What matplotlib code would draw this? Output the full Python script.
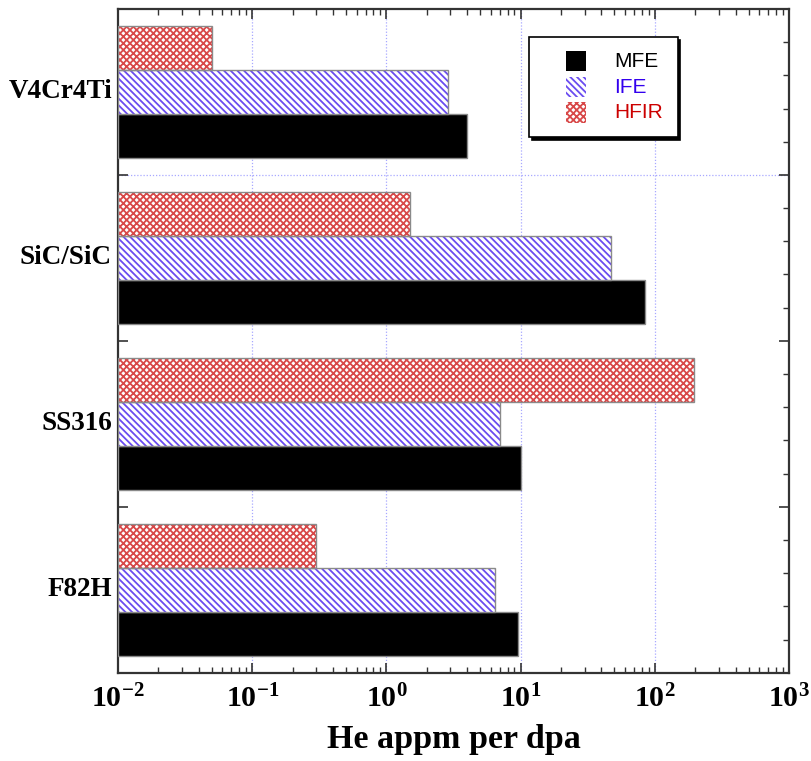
import matplotlib
matplotlib.use("Agg")
import matplotlib.pyplot as plt
import numpy as np
from matplotlib.patches import Rectangle, Patch
from matplotlib.legend_handler import HandlerPatch
from matplotlib.ticker import LogLocator, NullFormatter, MultipleLocator
from matplotlib import transforms

# ---- data ----
materials = ["F82H", "SS316", "SiC/SiC", "V4Cr4Ti"]  # bottom to top
mfe = [9.5, 10.0, 85.0, 4.0]
ife = [6.4, 7.0, 47.0, 2.9]
hfir = [0.3, 195.0, 1.5, 0.05]
series_names = ["MFE", "IFE", "HFIR"]
xtick_values = [1e-2, 1e-1, 1e0, 1e1, 1e2, 1e3]
xtick_labels = [r"$\mathbf{10^{-2}}$", r"$\mathbf{10^{-1}}$", r"$\mathbf{10^{0}}$",
                r"$\mathbf{10^{1}}$", r"$\mathbf{10^{2}}$", r"$\mathbf{10^{3}}$"]
xlabel = "He appm per dpa"

plt.rcParams["mathtext.fontset"] = "custom"
plt.rcParams["mathtext.bf"] = "Liberation Serif:bold"
plt.rcParams["mathtext.rm"] = "Liberation Serif:bold"
plt.rcParams["mathtext.it"] = "Liberation Serif:bold"
plt.rcParams["hatch.linewidth"] = 1.3

ife_col = "#6a4cf0"
hfir_col = "#d84848"
edge_col = "#8a8a8a"
ife_hatch = "\\" * 5
hfir_hatch = "x" * 5

fig = plt.figure(figsize=(8.12, 7.61), dpi=100)
ax = fig.add_axes([118 / 812, 1 - 672.7 / 761, (789 - 118) / 812, (672.7 - 9) / 761])

h = 0.265
centers = np.arange(len(materials)) + 0.5
left = 1e-2

# MFE (bottom of group)
ax.barh(centers - h, np.array(mfe) - left, left=left, height=h, color="black",
        edgecolor=edge_col, linewidth=1.0, zorder=3)
# IFE (middle) hatched
ax.barh(centers, np.array(ife) - left, left=left, height=h, facecolor="white",
        edgecolor=ife_col, hatch=ife_hatch, linewidth=0, zorder=3)
ax.barh(centers, np.array(ife) - left, left=left, height=h, fill=False,
        edgecolor=edge_col, linewidth=1.0, zorder=4)
# HFIR (top) crosshatched
ax.barh(centers + h, np.array(hfir) - left, left=left, height=h, facecolor="white",
        edgecolor=hfir_col, hatch=hfir_hatch, linewidth=0, zorder=3)
ax.barh(centers + h, np.array(hfir) - left, left=left, height=h, fill=False,
        edgecolor=edge_col, linewidth=1.0, zorder=4)

ax.set_xscale("log")
ax.set_xlim(1e-2, 1e3)
ax.set_ylim(0, len(materials))

ax.set_xticks(xtick_values)
ax.set_xticklabels(xtick_labels, fontsize=21.5)
ax.xaxis.set_minor_locator(LogLocator(base=10, subs=np.arange(2, 10), numticks=20))
ax.xaxis.set_minor_formatter(NullFormatter())

ax.yaxis.set_major_locator(MultipleLocator(1))
ax.yaxis.set_minor_locator(MultipleLocator(0.2))
ax.set_yticklabels([])

ax.tick_params(which="both", direction="in", top=True, right=True, color="#333333")
ax.tick_params(which="major", length=7, width=1.2)
ax.tick_params(axis="x", which="major", pad=8)
ax.tick_params(which="minor", length=4, width=1.0)

for s in ax.spines.values():
    s.set_linewidth(1.6)
    s.set_color("#333333")

# gridlines
for xv in xtick_values[1:-1]:
    ax.axvline(xv, color="#a8a8ff", linestyle=(0, (1, 1.5)), linewidth=0.9, zorder=1)
ax.axhline(3, color="#a8a8ff", linestyle=(0, (1, 1.5)), linewidth=0.9, zorder=1)

# category labels
trans = transforms.blended_transform_factory(ax.transAxes, ax.transData)
for c, name in zip(centers, materials):
    ax.text(-0.009, c, name, transform=trans, ha="right", va="center",
            fontsize=19.5, fontweight="bold", family="Liberation Serif")

ax.set_xlabel(xlabel, fontsize=24.5, fontweight="bold", family="Liberation Serif", labelpad=8)

# legend
def make_square(legend, orig_handle, xdescent, ydescent, width, height, fontsize):
    s = 14.5
    return Rectangle((-xdescent + (width - s) / 2, -ydescent + (height - s) / 2 - 1), s, s)

handles = [Patch(facecolor="black", edgecolor="black", linewidth=0),
           Patch(facecolor="white", edgecolor=ife_col, hatch=ife_hatch, linewidth=0),
           Patch(facecolor="white", edgecolor=hfir_col, hatch=hfir_hatch, linewidth=0)]
leg = ax.legend(handles, series_names, loc="upper left",
                bbox_to_anchor=((529 - 118) / 671, (672.7 - 37) / 663.7),
                prop={"family": "Liberation Sans", "size": 15},
                handler_map={Patch: HandlerPatch(patch_func=make_square)},
                handlelength=3.1, handletextpad=0.25, borderpad=0.72, labelspacing=0.32,
                frameon=True, fancybox=False, shadow={"color": "black", "alpha": 1.0},
                borderaxespad=0)
leg.get_frame().set_edgecolor("black")
leg.get_frame().set_linewidth(1.2)
for t, col in zip(leg.get_texts(), ["black", "#3300ee", "#cc0000"]):
    t.set_color(col)
leg.set_zorder(10)

fig.savefig("out.png", dpi=100)
